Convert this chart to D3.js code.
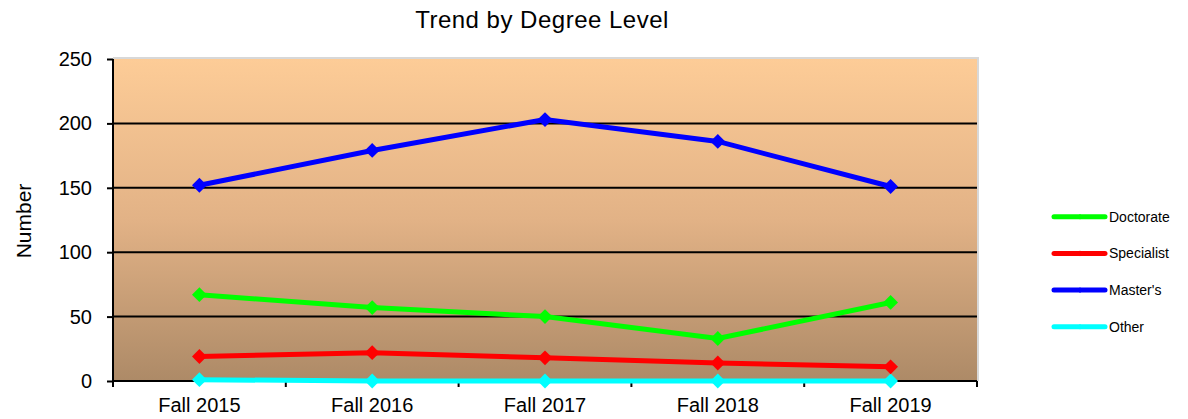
<!DOCTYPE html>
<html>
<head>
<meta charset="utf-8">
<script src="https://cdn.jsdelivr.net/npm/d3@7"></script>
<style>
  body { margin: 0; background: #fff; }
  text { font-family: "Liberation Sans", Arial, sans-serif; fill: #000; }
</style>
</head>
<body>
<svg id="chart" width="1188" height="419"></svg>
<script>
// data
let terms = ['Fall 2015', 'Fall 2016', 'Fall 2017', 'Fall 2018', 'Fall 2019'];
let doctorate = [67, 57, 50, 33, 61];
let specialist = [19, 22, 18, 14, 11];
let masters = [152, 179, 203, 186, 151];
let other = [1, 0, 0, 0, 0];
let y_ticks = [0, 50, 100, 150, 200, 250];

let series = [
  {name: 'Doctorate', color: '#00ff00', values: doctorate},
  {name: 'Specialist', color: '#ff0000', values: specialist},
  {name: "Master's", color: '#0000ff', values: masters},
  {name: 'Other', color: '#00ffff', values: other}
];

let LEFT = 113, RIGHT = 977, TOP = 59, BOTTOM = 381;

let svg = d3.select('#chart');

let xScale = d3.scaleBand().domain(terms).range([LEFT, RIGHT]);
let yScale = d3.scaleLinear().domain([0, 250]).range([BOTTOM, TOP]);

// background gradient
let defs = svg.append('defs');
let grad = defs.append('linearGradient')
  .attr('id', 'bg')
  .attr('x1', 0).attr('y1', 0).attr('x2', 0).attr('y2', 1);
grad.append('stop').attr('offset', '0%').attr('stop-color', '#fdcc97');
grad.append('stop').attr('offset', '50%').attr('stop-color', '#e2b286');
grad.append('stop').attr('offset', '100%').attr('stop-color', '#ad8a67');

// gray shadow border
svg.append('rect')
  .attr('x', LEFT).attr('y', TOP - 2)
  .attr('width', RIGHT - LEFT + 2).attr('height', BOTTOM - TOP + 2)
  .attr('fill', '#d8d8d8');

svg.append('rect')
  .attr('x', LEFT).attr('y', TOP)
  .attr('width', RIGHT - LEFT).attr('height', BOTTOM - TOP)
  .attr('fill', 'url(#bg)');

// gridlines
svg.append('g')
  .selectAll('line')
  .data(y_ticks.filter(d => d > 0 && d < 250))
  .join('line')
  .attr('x1', LEFT).attr('x2', RIGHT)
  .attr('y1', d => yScale(d)).attr('y2', d => yScale(d))
  .attr('stroke', '#000')
  .attr('stroke-width', 2);

// y axis
let yAxis = svg.append('g')
  .attr('transform', `translate(${LEFT},0)`)
  .call(d3.axisLeft(yScale).tickValues(y_ticks).tickSize(6).tickPadding(15));
yAxis.select('.domain').attr('stroke', '#000').attr('stroke-width', 2)
  .attr('d', `M0,${TOP}V${BOTTOM}`);
yAxis.selectAll('.tick line').attr('stroke-width', 2);
yAxis.selectAll('.tick text')
  .style('font-size', '20px')
  .style('font-family', '"Liberation Sans", Arial, sans-serif');

// x axis
let xAxis = svg.append('g')
  .attr('transform', `translate(0,${BOTTOM})`)
  .call(d3.axisBottom(xScale).tickSize(0).tickPadding(17));
xAxis.select('.domain').remove();
xAxis.append('line')
  .attr('x1', LEFT).attr('x2', RIGHT)
  .attr('stroke', '#000').attr('stroke-width', 2);
xAxis.selectAll('line.sep')
  .data(terms.concat(['end']))
  .join('line')
  .attr('class', 'sep')
  .attr('x1', (d, i) => i < terms.length ? xScale(d) : RIGHT)
  .attr('x2', (d, i) => i < terms.length ? xScale(d) : RIGHT)
  .attr('y1', 0).attr('y2', 6)
  .attr('stroke', '#000').attr('stroke-width', 2);
xAxis.selectAll('.tick text')
  .style('font-size', '20px')
  .style('font-family', '"Liberation Sans", Arial, sans-serif');

// lines and markers
let line = d3.line()
  .x((d, i) => xScale(terms[i]) + xScale.bandwidth() / 2)
  .y(d => yScale(d));

let diamond = d3.symbol().type(d3.symbolDiamond2).size(140);

let order = [3, 1, 0, 2];
order.forEach(k => {
  let s = series[k];
  svg.append('path')
    .datum(s.values)
    .attr('d', line)
    .attr('fill', 'none')
    .attr('stroke', s.color)
    .attr('stroke-width', 5);
  svg.append('g')
    .selectAll('path')
    .data(s.values)
    .join('path')
    .attr('d', diamond)
    .attr('transform', (d, i) => `translate(${xScale(terms[i]) + xScale.bandwidth() / 2},${yScale(d)})`)
    .attr('fill', s.color);
});

// title
svg.append('text')
  .attr('x', 542).attr('y', 28)
  .attr('text-anchor', 'middle')
  .style('font-size', '24px')
  .style('letter-spacing', '0.5px')
  .text('Trend by Degree Level');

// y title
svg.append('text')
  .attr('transform', `translate(31,${(TOP + BOTTOM) / 2 + 1}) rotate(-90)`)
  .attr('text-anchor', 'middle')
  .style('font-size', '21px')
  .text('Number');

// legend
let legend = svg.append('g')
  .selectAll('g')
  .data(series)
  .join('g')
  .attr('transform', (d, i) => `translate(1054,${216.7 + i * 36.7})`);
legend.append('line')
  .attr('x1', 0).attr('x2', 51)
  .attr('stroke', d => d.color)
  .attr('stroke-width', 5)
  .attr('stroke-linecap', 'round');
legend.append('path')
  .attr('d', d3.symbol().type(d3.symbolDiamond2).size(20))
  .attr('transform', 'translate(26,0)')
  .attr('fill', d => d.color);
legend.append('text')
  .attr('x', 55).attr('y', 5)
  .style('font-size', '14px')
  .text(d => d.name);
</script>
</body>
</html>
